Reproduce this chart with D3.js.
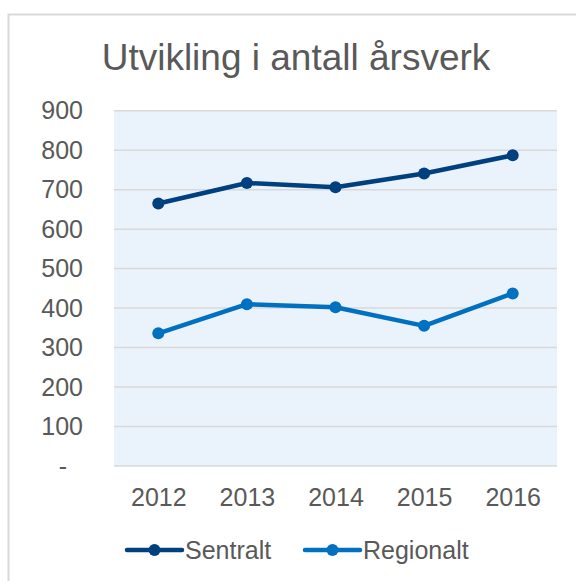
<!DOCTYPE html>
<html>
<head>
<meta charset="utf-8">
<script src="https://cdn.jsdelivr.net/npm/d3@7/dist/d3.min.js"></script>
<style>
  html, body { margin: 0; padding: 0; background: #fff; }
  svg { display: block; }
  text { font-family: "Liberation Sans", Arial, sans-serif; fill: #595959; }
</style>
</head>
<body>
<svg id="chart" width="576" height="581"></svg>
<script>
// Årsverk per år, sentralt og regionalt
const years = ["2012", "2013", "2014", "2015", "2016"];
const sentralt = [665, 717, 706, 741, 787];
const regionalt = [336, 410, 402, 355, 437];
const yTicks = [0, 100, 200, 300, 400, 500, 600, 700, 800, 900];
const seriesNames = ["Sentralt", "Regionalt"];
const seriesColors = ["#00407F", "#0070C0"];

const svg = d3.select("#chart");

// chart frame (only left and top edges fall inside the view)
svg.append("rect")
  .attr("x", 8.5).attr("y", 14.5)
  .attr("width", 700).attr("height", 700)
  .attr("fill", "#fff")
  .attr("stroke", "#d9d9d9")
  .attr("stroke-width", 2);

const plot = { left: 114, right: 557, top: 110.7, bottom: 466 };

const x = d3.scalePoint().domain(years).range([plot.left, plot.right]).padding(0.5);
const y = d3.scaleLinear().domain([0, 900]).range([plot.bottom, plot.top]);

// title
svg.append("text")
  .attr("x", 296).attr("y", 70)
  .attr("text-anchor", "middle")
  .style("font-size", "37px")
  .text("Utvikling i antall årsverk");

// plot background
svg.append("rect")
  .attr("x", plot.left).attr("y", plot.top)
  .attr("width", plot.right - plot.left).attr("height", plot.bottom - plot.top)
  .attr("fill", "#EAF2FB");

// gridlines
svg.append("g")
  .selectAll("line")
  .data(yTicks)
  .join("line")
  .attr("x1", plot.left).attr("x2", plot.right)
  .attr("y1", d => y(d)).attr("y2", d => y(d))
  .attr("stroke", "#D9D9D9")
  .attr("stroke-width", 1.5);

// y axis labels
const yAxis = d3.axisLeft(y)
  .tickValues(yTicks)
  .tickSize(0)
  .tickPadding(0)
  .tickFormat(d => d === 0 ? "-" : d3.format("d")(d));
const gy = svg.append("g").attr("transform", "translate(83,0)").call(yAxis);
gy.select(".domain").remove();
gy.selectAll("text")
  .attr("x", d => d === 0 ? -16 : 0)
  .attr("dy", "0.33em")
  .style("font-size", "25px")
  .style("fill", "#595959");

// x axis labels
const xAxis = d3.axisBottom(x).tickSize(0).tickPadding(0);
const gx = svg.append("g").attr("transform", "translate(0,488)").call(xAxis);
gx.select(".domain").remove();
gx.selectAll("text")
  .attr("y", 0)
  .attr("dy", "0.71em")
  .style("font-size", "25px")
  .style("fill", "#595959");

// lines and markers
const line = d3.line().x((d, i) => x(years[i])).y(d => y(d));
[sentralt, regionalt].forEach((vals, s) => {
  svg.append("path")
    .datum(vals)
    .attr("d", line)
    .attr("fill", "none")
    .attr("stroke", seriesColors[s])
    .attr("stroke-width", 4.5)
    .attr("stroke-linejoin", "round")
    .attr("stroke-linecap", "round");
  svg.append("g")
    .selectAll("circle")
    .data(vals)
    .join("circle")
    .attr("cx", (d, i) => x(years[i]))
    .attr("cy", d => y(d))
    .attr("r", 6)
    .attr("fill", seriesColors[s]);
});

// legend
const legendX = [127, 305];
const legendY = 550;
seriesNames.forEach((name, s) => {
  const g = svg.append("g").attr("transform", `translate(${legendX[s]},${legendY})`);
  g.append("line")
    .attr("x1", 0).attr("x2", 55)
    .attr("y1", 0).attr("y2", 0)
    .attr("stroke", seriesColors[s])
    .attr("stroke-width", 4.5)
    .attr("stroke-linecap", "round");
  g.append("circle").attr("cx", 27.5).attr("cy", 0).attr("r", 6).attr("fill", seriesColors[s]);
  g.append("text")
    .attr("x", 58).attr("y", 0)
    .attr("dy", "0.36em")
    .style("font-size", "25px")
    .text(name);
});
</script>
</body>
</html>
